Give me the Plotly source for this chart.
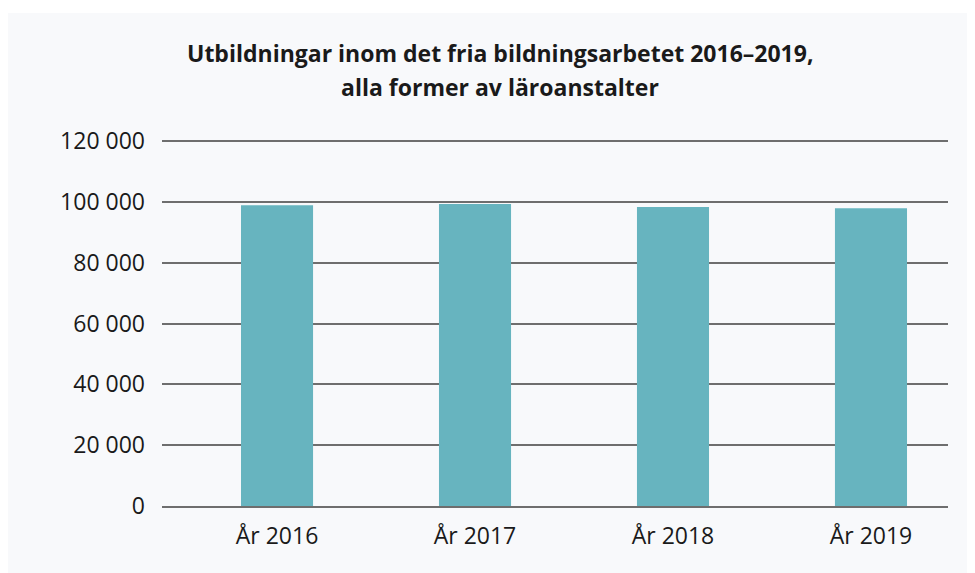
import plotly.graph_objects as go

categories = ["År 2016", "År 2017", "År 2018", "År 2019"]
values = [98900, 99300, 98300, 97900]
tick_vals = [0, 20000, 40000, 60000, 80000, 100000, 120000]
tick_text = ["0", "20 000", "40 000", "60 000", "80 000", "100 000", "120 000"]
title_line1 = "Utbildningar inom det fria bildningsarbetet 2016–2019,"
title_line2 = "alla former av läroanstalter"

# figure sits at an 8px page offset (browser body margin)
W, H = 967, 565
L, R, T, B = 154, 27, 131, 67
pw, ph = W - L - R, H - T - B

def px_x(p):
    return (p - L) / pw

def px_y(p):
    return (H - B - p) / ph

panel = "#f8f9fb"
font_fam = "Open Sans, Noto Sans, sans-serif"

fig = go.Figure(
    go.Bar(
        x=categories,
        y=values,
        marker=dict(color="#67b4bf", line=dict(width=0)),
        width=0.364,
        hoverinfo="x+y",
    )
)

fig.add_shape(
    type="rect", xref="paper", yref="paper",
    x0=px_x(0), x1=px_x(W + 2), y0=px_y(H + 2), y1=px_y(5),
    fillcolor=panel, line=dict(width=0), layer="below",
)

fig.add_annotation(
    text=title_line1, xref="paper", yref="paper",
    x=px_x(492), y=px_y(45), xanchor="center", yanchor="middle",
    showarrow=False, font=dict(family=font_fam, size=23, color="#1a1a1a", weight="bold"),
)
fig.add_annotation(
    text=title_line2, xref="paper", yref="paper",
    x=px_x(492), y=px_y(79), xanchor="center", yanchor="middle",
    showarrow=False, font=dict(family=font_fam, size=23, color="#1a1a1a", weight="bold"),
)

fig.update_layout(
    width=W, height=H,
    margin=dict(l=L, r=R, t=T, b=B, pad=0),
    paper_bgcolor="white",
    plot_bgcolor=panel,
    showlegend=False,
    font=dict(family=font_fam, size=23, color="#1a1a1a"),
)
fig.update_xaxes(
    range=[-0.581, 3.389],
    showgrid=False, showline=True, linecolor="#6e6e6e", linewidth=2,
    ticks="", ticklabelstandoff=8, tickfont=dict(size=23),
    layer="above traces",
)
fig.update_yaxes(
    range=[0, 120660], tickvals=tick_vals, ticktext=tick_text,
    showgrid=True, gridcolor="#6e6e6e", gridwidth=1.5,
    zeroline=False, showline=False, ticks="",
    ticklabelstandoff=16, tickfont=dict(size=23),
)

fig.write_html("out.html")
